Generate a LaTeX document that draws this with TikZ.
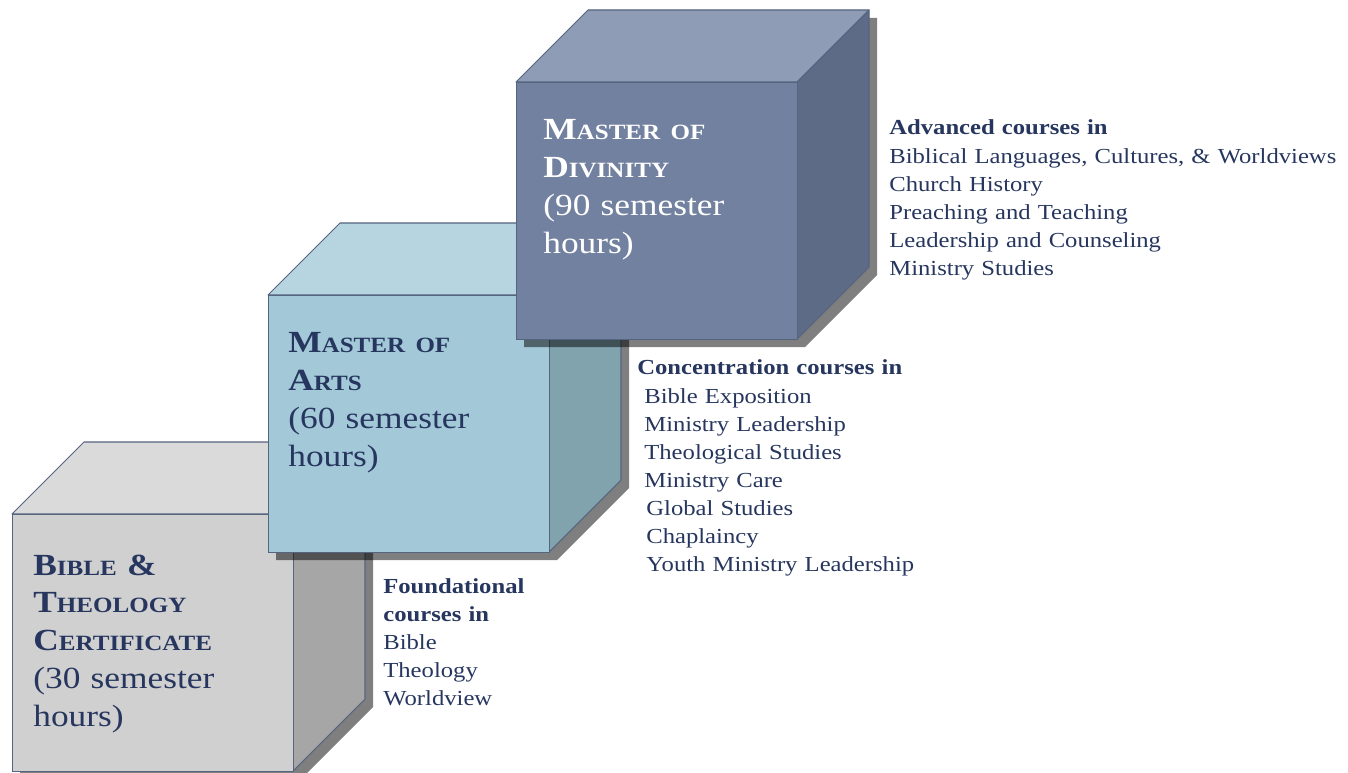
\documentclass[tikz,border=0pt]{standalone}
\usepackage{fontspec}
\setmainfont{Liberation Serif}[FakeStretch=1.15]
\usepackage{tikz}
\usetikzlibrary{positioning}
\definecolor{navy}{HTML}{26365E}
\definecolor{edgecol}{HTML}{55647F}
\definecolor{certfront}{HTML}{D0D0D0}
\definecolor{certtop}{HTML}{DADADA}
\definecolor{certside}{HTML}{A6A6A6}
\definecolor{mafront}{HTML}{A3C8D8}
\definecolor{matop}{HTML}{B6D5E0}
\definecolor{maside}{HTML}{80A3AE}
\definecolor{mdivfront}{HTML}{7281A0}
\definecolor{mdivtop}{HTML}{8E9CB6}
\definecolor{mdivside}{HTML}{5E6B86}
\tikzstyle{front} = [rectangle, draw=edgecol, line width=0.6pt,
minimum width=5.62cm, minimum height=5.14cm, inner sep=0pt]
\tikzstyle{face} = [draw=edgecol, line width=0.6pt, line join=round]
\tikzstyle{shade} = [fill=black, opacity=0.5]
\tikzstyle{title} = [anchor=base west, align=left, text width=5cm,
inner sep=0pt, text=navy, font=\fontsize{17.5}{21.5}\selectfont]
\tikzstyle{courses} = [anchor=base west, align=left, text width=10cm,
inner sep=0pt, text=navy, font=\fontsize{12.2}{16}\selectfont]
% bold small caps by hand
\newcommand\sctxt[2]{\textbf{#1{\fontsize{12.4}{21.5}\selectfont #2}}}
% cube: name, front north west corner, front, top, side colours
\newcommand\drawcube[5]{%
\coordinate (#1) at (#2);
\fill[shade] ([shift={(8,8)}]#1) -- ++(72,-72) -- ++(281,0) -- ++(0,257)
  -- ++(-72,72) -- ++(-281,0) -- cycle;
\filldraw[face, fill=#4] (#1) -- ++(72,-72) -- ++(281,0) -- ++(-72,72) -- cycle;
\filldraw[face, fill=#5] (#1) ++(281,0) -- ++(72,-72) -- ++(0,257)
  -- ++(-72,72) -- cycle;
\node [front, fill=#3, anchor=north west] (#1front) at (#1) {};
}

\begin{document}
\begin{tikzpicture}[x=0.02cm, y=-0.02cm]
\useasboundingbox (0,0) rectangle (1348,773);
% Place cubes
\drawcube{cert}{12,514}{certfront}{certtop}{certside}
\drawcube{ma}{268,295}{mafront}{matop}{maside}
\drawcube{mdiv}{516,82}{mdivfront}{mdivtop}{mdivside}

% Degree names
\node [title] (certtitle) at (33,575) {\sctxt{B}{IBLE} \textbf{\&}\\
\sctxt{T}{HEOLOGY}\\ \sctxt{C}{ERTIFICATE}\\ (30 semester\\ hours)};
\node [title] (matitle) at (288,353) {\sctxt{M}{ASTER OF}\\
\sctxt{A}{RTS}\\ (60 semester\\ hours)};
\node [title, text=white] (mdivtitle) at (543,140) {\sctxt{M}{ASTER OF}\\
\sctxt{D}{IVINITY}\\ (90 semester\\ hours)};

% Course lists
\node [courses] (foundlist) at (383,593) {\textbf{Foundational}\\
\textbf{courses in}\\ Bible\\ Theology\\ Worldview};
\node [courses] (conclist) at (637,375) {\textbf{Concentration courses in}\\
\hspace*{0.14cm}Bible Exposition\\ \hspace*{0.14cm}Ministry Leadership\\
\hspace*{0.14cm}Theological Studies\\ \hspace*{0.14cm}Ministry Care\\
\hspace*{0.18cm}Global Studies\\ \hspace*{0.18cm}Chaplaincy\\
\hspace*{0.18cm}Youth Ministry Leadership};
\node [courses] (advlist) at (889,135) {\textbf{Advanced courses in}\\
Biblical Languages, Cultures, \& Worldviews\\ Church History\\
Preaching and Teaching\\ Leadership and Counseling\\ Ministry Studies};
\end{tikzpicture}
\end{document}
